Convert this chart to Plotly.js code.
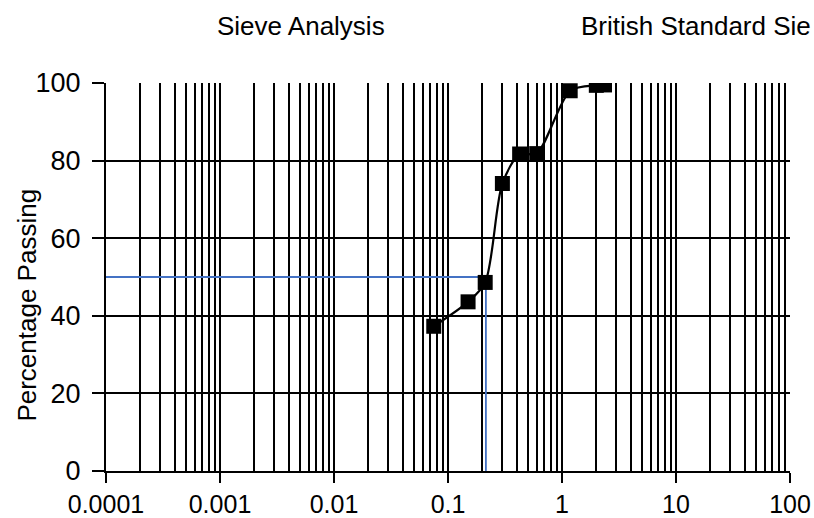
<!DOCTYPE html>
<html>
<head>
<meta charset="utf-8">
<script src="https://cdn.plot.ly/plotly-3.0.1.min.js"></script>
<style>html,body{margin:0;padding:0;background:#fff;overflow:hidden}#chart{width:814px;height:518px}</style>
</head>
<body>
<div id="chart"></div>
<script>
// Sieve data
const sieveSize = [0.075, 0.15, 0.212, 0.3, 0.425, 0.6, 1.18, 2.0, 2.36];
const percentPassing = [37.3, 43.6, 48.6, 74.1, 81.7, 81.8, 98.0, 99.4, 99.5];
// D50 guide line
const d50Size = 0.215;
const d50Percent = 50;
// Axis ticks
const xTickVals = [0.0001, 0.001, 0.01, 0.1, 1, 10, 100];
const xTickText = ['0.0001', '0.001', '0.01', '0.1', '1', '10', '100'];
const yTickVals = [0, 20, 40, 60, 80, 100];
const titleText = 'Sieve Analysis';
const rightTitleText = 'British Standard Sie';
const yTitleText = 'Percentage Passing';

const minorVals = [];
for (let e = -4; e < 2; e++) {
  for (let m = 2; m <= 9; m++) minorVals.push(m * Math.pow(10, e));
}

const font = 'Liberation Sans, Arial, sans-serif';

const traces = [
  {
    x: [xTickVals[0], d50Size, d50Size],
    y: [d50Percent, d50Percent, 0],
    mode: 'lines',
    line: {color: '#4472C4', width: 1.8},
    hoverinfo: 'skip',
    showlegend: false
  },
  {
    x: sieveSize,
    y: percentPassing,
    mode: 'lines+markers',
    line: {color: '#000', width: 2.2, shape: 'spline', smoothing: 0.8},
    marker: {symbol: 'square', size: 15, color: '#000'},
    showlegend: false
  }
];

const layout = {
  width: 814,
  height: 518,
  margin: {l: 106, r: 24, t: 83, b: 47},
  paper_bgcolor: '#fff',
  plot_bgcolor: '#fff',
  font: {family: font, color: '#000', size: 24},
  showlegend: false,
  xaxis: {
    type: 'log',
    range: [-4, 2],
    tickvals: xTickVals,
    ticktext: xTickText,
    ticks: 'outside',
    ticklen: 10,
    tickwidth: 2,
    tickcolor: '#000',
    ticklabelstandoff: 0,
    showgrid: true,
    gridcolor: '#000',
    gridwidth: 2,
    showline: true,
    linecolor: '#000',
    linewidth: 2,
    zeroline: false,
    tickfont: {size: 25, family: font, color: '#000'},
    minor: {tickvals: minorVals, showgrid: true, gridcolor: '#000', gridwidth: 2, ticks: ''}
  },
  yaxis: {
    range: [0, 100],
    tickvals: yTickVals,
    ticks: 'outside',
    ticklen: 12,
    tickwidth: 2,
    tickcolor: '#000',
    ticklabelstandoff: 6,
    showgrid: true,
    gridcolor: '#000',
    gridwidth: 2,
    showline: true,
    linecolor: '#000',
    linewidth: 2,
    zeroline: false,
    tickfont: {size: 27, family: font, color: '#000'}
  },
  annotations: [
    {text: titleText, xref: 'paper', yref: 'paper', x: 0.285, y: 1.147, xanchor: 'center', yanchor: 'middle', showarrow: false, font: {size: 26, family: font, color: '#000'}},
    {text: rightTitleText, xref: 'paper', yref: 'paper', x: 0.692, y: 1.147, xanchor: 'left', yanchor: 'middle', showarrow: false, font: {size: 26, family: font, color: '#000'}},
    {text: yTitleText, xref: 'paper', yref: 'paper', x: -0.116, y: 0.428, xanchor: 'center', yanchor: 'middle', textangle: -90, showarrow: false, font: {size: 26, family: font, color: '#000'}}
  ]
};

Plotly.newPlot('chart', traces, layout, {displayModeBar: false, staticPlot: true});
</script>
</body>
</html>
